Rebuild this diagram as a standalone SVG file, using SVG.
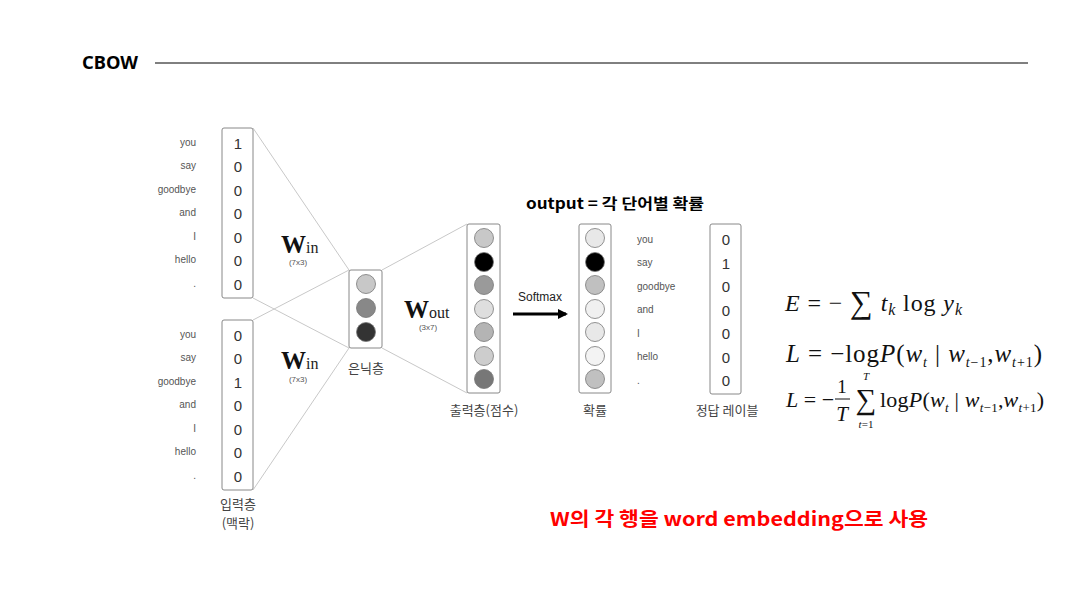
<svg xmlns="http://www.w3.org/2000/svg" width="1083" height="609" viewBox="0 0 1083 609">
<style>
.word{font-family:"Liberation Sans",Arial,sans-serif;font-size:10px;fill:#555}
.num{font-family:"Liberation Sans",Arial,sans-serif;font-size:15px;fill:#333;text-anchor:middle}
.box{fill:#fff;stroke:#888;stroke-width:1}
.conn{stroke:#c8c8c8;stroke-width:1;fill:none}
.cap{font-family:"Noto Sans CJK KR","Noto Sans",sans-serif;font-size:13px;fill:#444;text-anchor:middle}
.wb{font-family:"Liberation Serif",serif;font-weight:bold;font-size:25px;fill:#111}
.ws{font-family:"Liberation Serif",serif;font-size:16px;fill:#222}
.dim{font-family:"Liberation Sans",Arial,sans-serif;font-size:8px;fill:#555;text-anchor:middle}
.cir{stroke:#777;stroke-width:0.8}
.eq{font-family:"Liberation Serif","Times New Roman",serif;fill:#111}
</style>
<defs>
<marker id="arr" markerWidth="10" markerHeight="10" refX="8" refY="5" orient="auto" markerUnits="userSpaceOnUse">
<path d="M0,0 L10,5 L0,10 Z" fill="#000"/>
</marker>
</defs>
<rect width="1083" height="609" fill="#fff"/>

<g id="title">
<text x="82" y="69" font-family="Noto Sans,Liberation Sans,sans-serif" font-weight="bold" font-size="17" fill="#000" textLength="56" lengthAdjust="spacingAndGlyphs">CBOW</text>
<line x1="155" y1="63" x2="1028" y2="63" stroke="#000" stroke-width="1"/>
</g>

<g id="connectors">
<line class="conn" x1="253" y1="128" x2="349" y2="270"/>
<line class="conn" x1="253" y1="298" x2="349" y2="348"/>
<line class="conn" x1="253" y1="320" x2="349" y2="270"/>
<line class="conn" x1="253" y1="490" x2="349" y2="348"/>
<line class="conn" x1="382" y1="270" x2="467" y2="224"/>
<line class="conn" x1="382" y1="348" x2="467" y2="393"/>
<line x1="513" y1="314" x2="566" y2="314" stroke="#000" stroke-width="3" marker-end="url(#arr)"/>
</g>

<g id="input-top">
<rect class="box" x="222" y="128" width="31" height="170" rx="2"/>
<g class="word" text-anchor="end">
<text x="196" y="146">you</text><text x="196" y="169">say</text><text x="196" y="193">goodbye</text><text x="196" y="216">and</text><text x="196" y="240">I</text><text x="196" y="263">hello</text><text x="196" y="287">.</text>
</g>
<g class="num">
<text x="238" y="149">1</text><text x="238" y="172">0</text><text x="238" y="196">0</text><text x="238" y="219">0</text><text x="238" y="243">0</text><text x="238" y="266">0</text><text x="238" y="290">0</text>
</g>
</g>

<g id="input-bottom">
<rect class="box" x="222" y="320" width="31" height="170" rx="2"/>
<g class="word" text-anchor="end">
<text x="196" y="338">you</text><text x="196" y="361">say</text><text x="196" y="385">goodbye</text><text x="196" y="408">and</text><text x="196" y="432">I</text><text x="196" y="455">hello</text><text x="196" y="479">.</text>
</g>
<g class="num">
<text x="238" y="341">0</text><text x="238" y="364">0</text><text x="238" y="388">1</text><text x="238" y="411">0</text><text x="238" y="435">0</text><text x="238" y="458">0</text><text x="238" y="482">0</text>
</g>
<text class="cap" x="238" y="509" font-size="12">입력층</text>
<text class="cap" x="238" y="528" font-size="12">(맥락)</text>
</g>

<g id="win-top">
<text x="281" y="253"><tspan class="wb">W</tspan><tspan class="ws">in</tspan></text>
<text class="dim" x="298" y="265">(7x3)</text>
</g>
<g id="win-bottom">
<text x="281" y="369"><tspan class="wb">W</tspan><tspan class="ws">in</tspan></text>
<text class="dim" x="298" y="382">(7x3)</text>
</g>

<g id="hidden">
<rect class="box" x="349" y="270" width="33" height="78" rx="2"/>
<circle class="cir" cx="366" cy="284" r="9.5" fill="#c8c8c8"/>
<circle class="cir" cx="366" cy="308" r="9.5" fill="#888"/>
<circle class="cir" cx="366" cy="332" r="9.5" fill="#333"/>
<text class="cap" x="366" y="373">은닉층</text>
</g>

<g id="wout">
<text x="404" y="318"><tspan class="wb">W</tspan><tspan class="ws">out</tspan></text>
<text class="dim" x="428" y="330">(3x7)</text>
</g>

<g id="output-scores">
<rect class="box" x="467" y="224" width="33" height="169" rx="2"/>
<circle class="cir" cx="484" cy="238" r="9.5" fill="#c8c8c8"/>
<circle class="cir" cx="484" cy="262" r="9.5" fill="#000"/>
<circle class="cir" cx="484" cy="285" r="9.5" fill="#9a9a9a"/>
<circle class="cir" cx="484" cy="309" r="9.5" fill="#dedede"/>
<circle class="cir" cx="484" cy="332" r="9.5" fill="#b4b4b4"/>
<circle class="cir" cx="484" cy="356" r="9.5" fill="#cdcdcd"/>
<circle class="cir" cx="484" cy="379" r="9.5" fill="#777"/>
<text class="cap" x="484" y="415">출력층(점수)</text>
</g>

<g id="softmax">
<text x="540" y="301" font-family="Liberation Sans,Arial,sans-serif" font-size="12" fill="#222" text-anchor="middle">Softmax</text>
</g>

<g id="output-prob">
<text x="526" y="209" font-family="Noto Sans CJK KR,Noto Sans,sans-serif" font-weight="bold" font-size="15" fill="#000" textLength="178" lengthAdjust="spacingAndGlyphs">output = 각 단어별 확률</text>
<rect class="box" x="579" y="224" width="32" height="169" rx="2"/>
<circle class="cir" cx="595" cy="238" r="9.5" fill="#e8e8e8"/>
<circle class="cir" cx="595" cy="262" r="9.5" fill="#000"/>
<circle class="cir" cx="595" cy="285" r="9.5" fill="#c0c0c0"/>
<circle class="cir" cx="595" cy="309" r="9.5" fill="#f0f0f0"/>
<circle class="cir" cx="595" cy="332" r="9.5" fill="#e8e8e8"/>
<circle class="cir" cx="595" cy="356" r="9.5" fill="#f3f3f3"/>
<circle class="cir" cx="595" cy="379" r="9.5" fill="#c0c0c0"/>
<text class="cap" x="595" y="415">확률</text>
</g>

<g id="answer-label">
<g class="word">
<text x="637" y="243">you</text><text x="637" y="266">say</text><text x="637" y="290">goodbye</text><text x="637" y="313">and</text><text x="637" y="337">I</text><text x="637" y="360">hello</text><text x="637" y="384">.</text>
</g>
<rect class="box" x="710" y="224" width="31" height="170" rx="2"/>
<g class="num">
<text x="726" y="245">0</text><text x="726" y="269">1</text><text x="726" y="292">0</text><text x="726" y="316">0</text><text x="726" y="339">0</text><text x="726" y="363">0</text><text x="726" y="386">0</text>
</g>
<text class="cap" x="727" y="415">정답 레이블</text>
</g>

<g id="equations" class="eq">
<text x="785" y="311" font-size="24" textLength="177" lengthAdjust="spacing"><tspan font-style="italic">E</tspan> = − <tspan font-size="32" dy="2">∑</tspan><tspan font-style="italic" dy="-2"> t</tspan><tspan font-style="italic" font-size="16" dy="4">k</tspan><tspan dy="-4"> log </tspan><tspan font-style="italic">y</tspan><tspan font-style="italic" font-size="16" dy="4">k</tspan></text>
<text x="786" y="362" font-size="25" textLength="256" lengthAdjust="spacing"><tspan font-style="italic">L</tspan> = −log<tspan font-style="italic">P</tspan>(<tspan font-style="italic">w</tspan><tspan font-style="italic" font-size="14" dy="5">t</tspan><tspan dy="-5"> | </tspan><tspan font-style="italic">w</tspan><tspan font-style="italic" font-size="14" dy="5">t</tspan><tspan font-size="14">−1</tspan><tspan dy="-5">,</tspan><tspan font-style="italic">w</tspan><tspan font-style="italic" font-size="14" dy="5">t</tspan><tspan font-size="14">+1</tspan><tspan dy="-5">)</tspan></text>
<text x="786" y="407" font-size="22"><tspan font-style="italic">L</tspan> = −</text>
<text x="842" y="393" font-size="19" text-anchor="middle">1</text>
<line x1="835" y1="399" x2="850" y2="399" stroke="#111" stroke-width="1"/>
<text x="842" y="421" font-size="21" font-style="italic" text-anchor="middle">T</text>
<text x="866" y="409" font-size="29" text-anchor="middle">∑</text>
<text x="866" y="380" font-size="11" font-style="italic" text-anchor="middle">T</text>
<text x="866" y="428" font-size="11" text-anchor="middle"><tspan font-style="italic">t</tspan>=1</text>
<text x="880" y="407" font-size="22" textLength="164" lengthAdjust="spacing">log<tspan font-style="italic">P</tspan>(<tspan font-style="italic">w</tspan><tspan font-style="italic" font-size="13" dy="5">t</tspan><tspan dy="-5"> | </tspan><tspan font-style="italic">w</tspan><tspan font-style="italic" font-size="13" dy="5">t</tspan><tspan font-size="13">−1</tspan><tspan dy="-5">,</tspan><tspan font-style="italic">w</tspan><tspan font-style="italic" font-size="13" dy="5">t</tspan><tspan font-size="13">+1</tspan><tspan dy="-5">)</tspan></text>
</g>

<g id="note">
<text x="550" y="526" font-family="Noto Sans CJK KR,Noto Sans,sans-serif" font-weight="bold" font-size="19" fill="#ff0000" textLength="378" lengthAdjust="spacingAndGlyphs">W의 각 행을 word embedding으로 사용</text>
</g>
</svg>
